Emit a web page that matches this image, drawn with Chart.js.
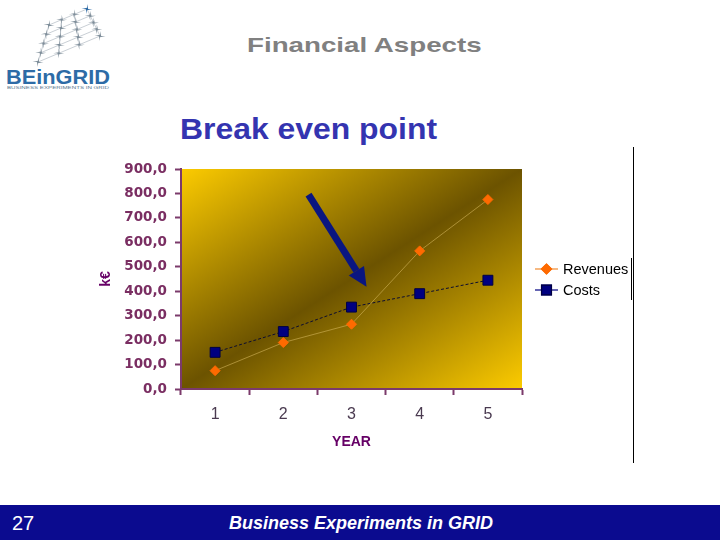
<!DOCTYPE html>
<html lang="en">
<head>
    <meta charset="UTF-8">
    <title>Financial Aspects - Break even point</title>
    <script src="https://cdn.jsdelivr.net/npm/chart.js"></script>
    <style>
        body {
            margin: 0;
            width: 720px;
            height: 540px;
            position: relative;
            overflow: hidden;
            background: #fff;
            font-family: "Liberation Sans", Arial, sans-serif;
        }
        .heading {
            position: absolute;
            left: 247px;
            top: 33px;
            font-size: 21px;
            line-height: 24px;
            font-weight: bold;
            color: #808080;
            white-space: nowrap;
            transform-origin: left center;
            transform: scaleX(1.32);
        }
        .title {
            position: absolute;
            left: 180px;
            top: 112px;
            font-size: 29px;
            line-height: 34px;
            font-weight: bold;
            color: #3434b0;
            white-space: nowrap;
            transform-origin: left center;
            transform: scaleX(1.1);
        }
        .chart-box {
            position: absolute;
            left: 90px;
            top: 150px;
            width: 560px;
            height: 301px;
        }
        .rule {
            position: absolute;
            left: 633px;
            top: 147px;
            width: 1px;
            height: 316px;
            background: #000;
        }
        .footer {
            position: absolute;
            left: 0;
            top: 505px;
            width: 720px;
            height: 35px;
            background: #0b0b8f;
            color: #fff;
        }
        .footer .num {
            position: absolute;
            left: 12px;
            top: 7px;
            font-size: 20px;
        }
        .footer .name {
            position: absolute;
            left: 229px;
            top: 8px;
            font-size: 18px;
            font-weight: bold;
            font-style: italic;
            white-space: nowrap;
        }
        .logo {
            position: absolute;
            left: 0;
            top: 0;
        }
    </style>
</head>
<body>
    <svg class="logo" width="125" height="95" id="logo">
        <text x="6" y="84" font-family="Liberation Sans, Arial" font-weight="bold" font-size="20" fill="#2d6ba6" textLength="104" lengthAdjust="spacingAndGlyphs">BEinGRID</text>
        <text x="7" y="89" font-family="Liberation Sans, Arial" font-size="3.5" fill="#5a7890" textLength="102" lengthAdjust="spacingAndGlyphs">BUSINESS EXPERIMENTS IN GRID</text>
    </svg>

    <div class="heading">Financial Aspects</div>
    <div class="title">Break even point</div>

    <div class="chart-box">
        <canvas id="break-even-chart" width="560" height="301"></canvas>
    </div>
    <div class="rule"></div>

    <div class="footer">
        <span class="num">27</span>
        <span class="name">Business Experiments in GRID</span>
    </div>

    <script>
        // Chart data (k€ per year)
        const years = ['1', '2', '3', '4', '5'];
        const revenues = [75, 190, 265, 565, 775];
        const costs = [150, 235, 335, 390, 445];
        const yTicks = [0, 900, 100]; // min, max, step
        // arrow pointing at the break even point: [category index, k€]
        const arrowFrom = [1.37, 795];
        const arrowTo = [2.22, 418];

        const axisColor = '#7b3a6b';
        const labelColor = '#7a2e62';

        // logo stars (decoration): fan-shaped lattice between four corners
        (function drawLogo() {
            const svg = document.getElementById('logo');
            const BL = [38, 62], TL = [49, 25], TR = [87, 9], BR = [100, 36];
            const cols = 4, rows = 5;
            const pt = (i, j) => {
                const s = i / (cols - 1), t = j / (rows - 1);
                const lx = BL[0] + (TL[0] - BL[0]) * t, ly = BL[1] + (TL[1] - BL[1]) * t;
                const rx = BR[0] + (TR[0] - BR[0]) * t, ry = BR[1] + (TR[1] - BR[1]) * t;
                return [lx + (rx - lx) * s, ly + (ry - ly) * s];
            };
            let html = '';
            for (let i = 0; i < cols; i++) {
                for (let j = 0; j < rows; j++) {
                    const [x, y] = pt(i, j);
                    if (i < cols - 1) { const [x2, y2] = pt(i + 1, j); html += `<line x1="${x}" y1="${y}" x2="${x2}" y2="${y2}" stroke="#a4afb8" stroke-width="0.6"/>`; }
                    if (j < rows - 1) { const [x2, y2] = pt(i, j + 1); html += `<line x1="${x}" y1="${y}" x2="${x2}" y2="${y2}" stroke="#a4afb8" stroke-width="0.6"/>`; }
                }
            }
            for (let i = 0; i < cols; i++) {
                for (let j = 0; j < rows; j++) {
                    const [x, y] = pt(i, j);
                    const c = (i === cols - 1 && j === rows - 1) ? '#2d6ba6' : '#7f8e9a';
                    html += `<path d="M${x - 5.5} ${y} L${x} ${y - 1.2} L${x} ${y - 5} L${x + 1.2} ${y} L${x + 5.5} ${y} L${x} ${y + 1.2} L${x} ${y + 5} L${x - 1.2} ${y} Z" fill="${c}"/>`;
                }
            }
            svg.insertAdjacentHTML('afterbegin', html);
        })();

        // gold/brown diagonal gradient behind the plot
        const plotBackground = {
            id: 'plotBackground',
            beforeDraw(chart) {
                const { ctx, chartArea: a } = chart;
                const w = a.right - a.left, h = a.bottom - a.top;
                const cx = a.left + w / 2, cy = a.top + h / 2;
                const k = w * h / (w * w + h * h);
                const g = ctx.createLinearGradient(cx - h * k, cy - w * k, cx + h * k, cy + w * k);
                g.addColorStop(0, '#fccb00');
                g.addColorStop(0.5, '#6c5300');
                g.addColorStop(1, '#fccb00');
                ctx.save();
                ctx.fillStyle = g;
                ctx.fillRect(a.left, a.top, w, h);
                ctx.restore();
            }
        };

        // arrow + legend with line-and-marker samples
        const extras = {
            id: 'extras',
            afterDatasetsDraw(chart) {
                const { ctx, scales: { x, y } } = chart;
                const x1 = x.getPixelForValue(arrowFrom[0]), y1 = y.getPixelForValue(arrowFrom[1]);
                const x2 = x.getPixelForValue(arrowTo[0]), y2 = y.getPixelForValue(arrowTo[1]);
                const ang = Math.atan2(y2 - y1, x2 - x1);
                const headLen = 19, headW = 9;
                const bx = x2 - Math.cos(ang) * headLen, by = y2 - Math.sin(ang) * headLen;
                ctx.save();
                ctx.strokeStyle = '#0a1680';
                ctx.fillStyle = '#0a1680';
                ctx.lineWidth = 7;
                ctx.beginPath();
                ctx.moveTo(x1, y1);
                ctx.lineTo(bx, by);
                ctx.stroke();
                ctx.beginPath();
                ctx.moveTo(x2, y2);
                ctx.lineTo(bx + Math.sin(ang) * headW, by - Math.cos(ang) * headW);
                ctx.lineTo(bx - Math.sin(ang) * headW, by + Math.cos(ang) * headW);
                ctx.closePath();
                ctx.fill();
                ctx.restore();
            },
            afterDraw(chart) {
                const { ctx, chartArea: a } = chart;
                const left = a.right + 13;
                const midY = (a.top + a.bottom) / 2;
                ctx.save();
                chart.data.datasets.forEach((ds, i) => {
                    const yy = midY - 10 + i * 21;
                    ctx.strokeStyle = ds.legendLine;
                    ctx.lineWidth = 1.2;
                    ctx.setLineDash([]);
                    ctx.beginPath();
                    ctx.moveTo(left, yy);
                    ctx.lineTo(left + 23, yy);
                    ctx.stroke();
                    Chart.helpers.drawPoint(ctx, {
                        pointStyle: ds.pointStyle,
                        radius: ds.pointRadius,
                        borderWidth: 1,
                        rotation: 0
                    }, left + 11.5, yy);
                    ctx.fillStyle = ds.pointBackgroundColor;
                    ctx.strokeStyle = ds.pointBorderColor;
                    ctx.fill();
                    ctx.stroke();
                    ctx.fillStyle = '#000';
                    ctx.font = '14.5px "Liberation Sans", Arial, sans-serif';
                    ctx.textBaseline = 'middle';
                    ctx.fillText(ds.label, left + 28, yy + 1);
                });
                ctx.strokeStyle = '#000';
                ctx.lineWidth = 1;
                ctx.beginPath();
                ctx.moveTo(left + 96.5, midY - 21);
                ctx.lineTo(left + 96.5, midY + 21);
                ctx.stroke();
                ctx.restore();
            }
        };

        const ctx = document.getElementById('break-even-chart').getContext('2d');
        new Chart(ctx, {
            type: 'line',
            data: {
                labels: years,
                datasets: [{
                    label: 'Revenues',
                    data: revenues,
                    borderColor: 'rgba(210, 180, 90, 0.6)',
                    borderWidth: 1,
                    pointStyle: 'rectRot',
                    pointRadius: 5,
                    pointBackgroundColor: '#ff6a00',
                    pointBorderColor: '#ff6a00',
                    legendLine: '#f08a30',
                    tension: 0
                }, {
                    label: 'Costs',
                    data: costs,
                    borderColor: '#0c0c30',
                    borderWidth: 1,
                    borderDash: [3, 2],
                    pointStyle: 'rect',
                    pointRadius: 7,
                    pointBorderWidth: 1,
                    pointBackgroundColor: '#000080',
                    pointBorderColor: '#000040',
                    legendLine: '#000080',
                    tension: 0
                }]
            },
            options: {
                responsive: false,
                animation: false,
                layout: { padding: { top: 19, right: 128, left: 0, bottom: 0 } },
                plugins: {
                    legend: { display: false },
                    tooltip: { enabled: false }
                },
                scales: {
                    x: {
                        offset: true,
                        grid: {
                            offset: true,
                            drawOnChartArea: false,
                            drawTicks: true,
                            tickLength: 6,
                            tickWidth: 2,
                            tickColor: axisColor
                        },
                        border: { color: axisColor, width: 2 },
                        ticks: {
                            color: '#4a3a50',
                            padding: 10,
                            maxRotation: 0,
                            font: { family: '"Liberation Sans", Arial, sans-serif', size: 16 }
                        },
                        title: {
                            display: true,
                            text: 'YEAR',
                            color: '#660066',
                            padding: { top: 6, bottom: 0 },
                            font: { family: '"Liberation Sans", Arial, sans-serif', size: 14, weight: 'bold' }
                        },
                        afterFit(scale) { scale.height = 62; }
                    },
                    y: {
                        min: yTicks[0],
                        max: yTicks[1],
                        ticks: {
                            stepSize: yTicks[2],
                            color: labelColor,
                            padding: 8,
                            font: { family: '"DejaVu Sans", sans-serif', size: 13.5, weight: 'bold' },
                            callback: v => v.toFixed(1).replace('.', ',')
                        },
                        grid: {
                            drawOnChartArea: false,
                            drawTicks: true,
                            tickLength: 6,
                            tickWidth: 2,
                            tickColor: axisColor
                        },
                        border: { color: axisColor, width: 2 },
                        title: {
                            display: true,
                            text: 'k€',
                            color: '#660066',
                            padding: { top: 8, bottom: 0 },
                            font: { family: '"Liberation Sans", Arial, sans-serif', size: 14, weight: 'bold' }
                        },
                        afterFit(scale) { scale.width = 91; }
                    }
                }
            },
            plugins: [plotBackground, extras]
        });
    </script>
</body>
</html>
